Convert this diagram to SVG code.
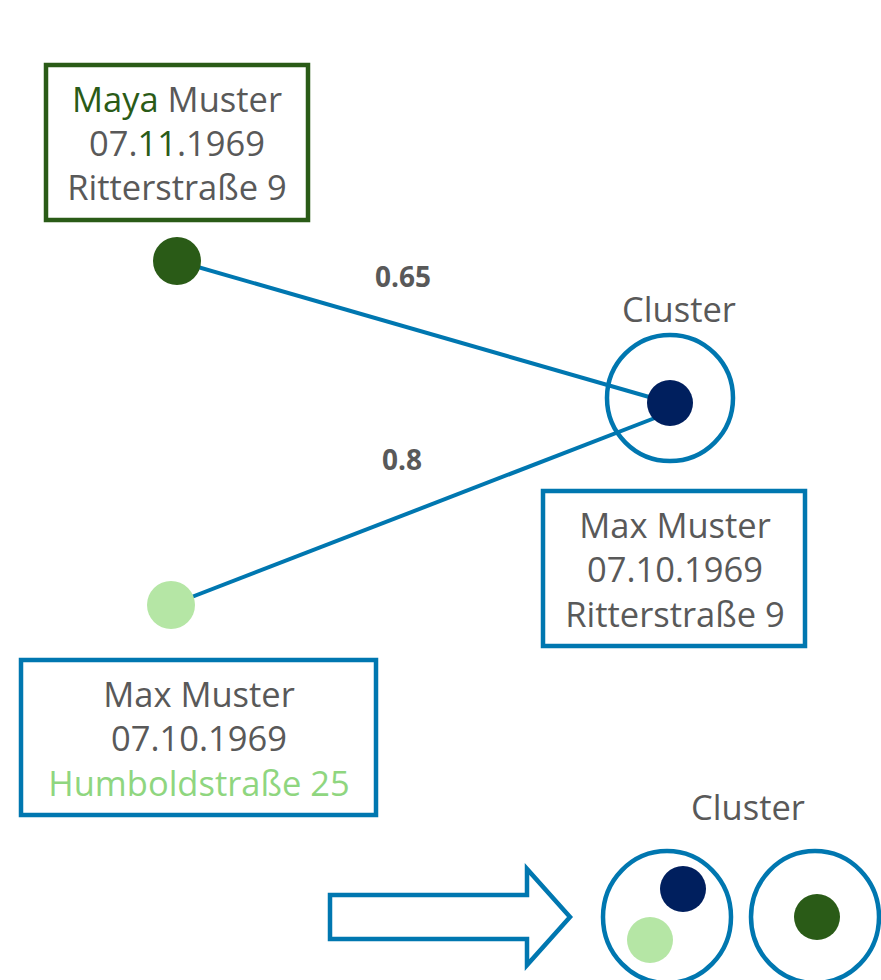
<svg xmlns="http://www.w3.org/2000/svg" width="881" height="980" viewBox="0 0 881 980">
<style>
.t{font-family:"Open Sans","Noto Sans","Liberation Sans",sans-serif;font-size:34.5px;fill:#595959;text-anchor:middle}
.lbl{font-family:"Open Sans","Noto Sans","Liberation Sans",sans-serif;font-size:28px;font-weight:bold;fill:#595959;text-anchor:middle}
.box{fill:#fff;stroke:#0077b0;stroke-width:4.5}
.ring{fill:none;stroke:#0077b0;stroke-width:4.5}
.edge{stroke:#0077b0;stroke-width:4;fill:none}
.dg{fill:#2a5b17}.nv{fill:#001f5e}.lg{fill:#b5e6a5}
</style>
<rect width="881" height="980" fill="#fff"/>
<g id="connectors">
<line class="edge" x1="177" y1="261" x2="670" y2="403"/>
<line class="edge" x1="171" y1="605" x2="660" y2="416"/>
<text class="lbl" x="403" y="287">0.65</text>
<text class="lbl" x="402" y="470">0.8</text>
</g>
<g id="maya">
<rect x="46" y="65" width="262" height="155" fill="#fff" stroke="#2a5b17" stroke-width="4.5"/>
<text class="t" x="177" y="112"><tspan fill="#2a5b17">Maya</tspan> Muster</text>
<text class="t" x="177" y="156">07.<tspan fill="#2a5b17">11</tspan>.1969</text>
<text class="t" x="177" y="200">Ritterstraße 9</text>
</g>
<g id="maya-dot"><circle class="dg" cx="177" cy="261" r="24"/></g>
<g id="cluster1">
<text class="t" x="679" y="322">Cluster</text>
<circle class="ring" cx="670" cy="398" r="63"/>
<circle class="nv" cx="670" cy="403" r="23"/>
</g>
<g id="max1">
<rect class="box" x="543" y="491" width="262" height="155"/>
<text class="t" x="675" y="538">Max Muster</text>
<text class="t" x="675" y="582">07.10.1969</text>
<text class="t" x="675" y="627">Ritterstraße 9</text>
</g>
<g id="max2-dot"><circle class="lg" cx="171" cy="605" r="24"/></g>
<g id="max2">
<rect class="box" x="21" y="660" width="355" height="155"/>
<text class="t" x="199" y="707">Max Muster</text>
<text class="t" x="199" y="751">07.10.1969</text>
<text class="t" x="199" y="796" style="fill:#8fd67f">Humboldstraße 25</text>
</g>
<g id="arrow">
<polygon points="330,895 527,895 527,869 570,917 527,965 527,939 330,939" fill="#fff" stroke="#0077b0" stroke-width="4.5"/>
</g>
<g id="cluster2">
<text class="t" x="748" y="820">Cluster</text>
<ellipse class="ring" cx="667" cy="917" rx="64" ry="66"/>
<circle class="nv" cx="683" cy="889" r="23"/>
<circle class="lg" cx="650" cy="940" r="23"/>
</g>
<g id="cluster3">
<ellipse class="ring" cx="815" cy="917" rx="64" ry="66"/>
<circle class="dg" cx="817" cy="917" r="23"/>
</g>
</svg>
